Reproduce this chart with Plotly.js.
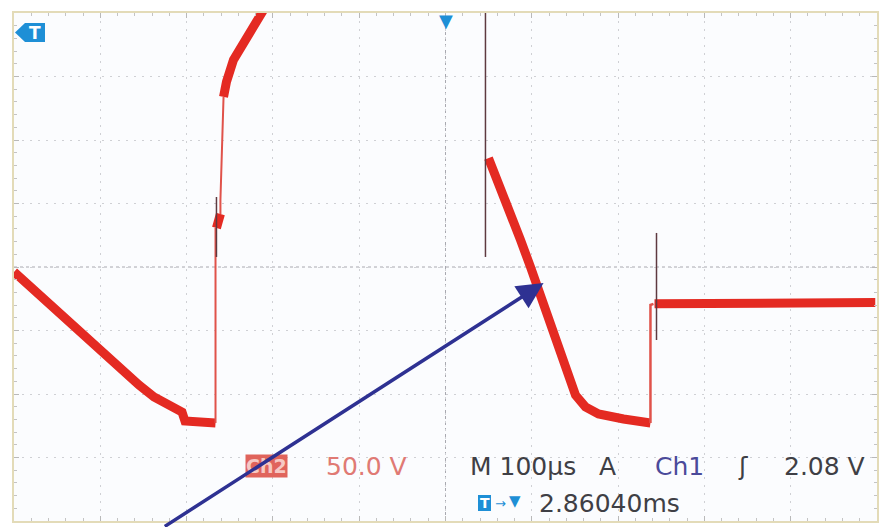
<!DOCTYPE html>
<html>
<head>
<meta charset="utf-8">
<script src="https://cdn.plot.ly/plotly-3.0.1.min.js"></script>
<style>html,body{margin:0;padding:0;background:#fff;}#chart{width:880px;height:527px;}</style>
</head>
<body>
<div id="chart"></div>
<script>
// ---- Data (time in µs relative to trigger, Ch2 in volts; 100 µs/div, 50 V/div) ----
const decay1T = [-500, -448.4, -401.5, -355.1, -337.7, -320.4, -305.3, -301.9, -266.5];
const decay1V = [-3.9, -36.2, -64.6, -92.9, -102.4, -109.4, -114.2, -121.3, -122.8];
const blockT = [-265.4, -260.8];
const blockV = [30.7, 41.7];
const riseT = [-257.2, -253.8, -245.7, -237.5, -228.3, -220.2, -210.9, -207.4];
const riseV = [133.9, 145.7, 163.0, 172.4, 181.1, 189.0, 200.0, 206.3];
const decay2T = [49.8, 61.4, 75.3, 86.9, 98.5, 113.6, 126.3, 139.0, 150.6, 162.2, 177.3, 206.3, 235.2, 237.5];
const decay2V = [85.8, 66.9, 42.5, 21.3, 0.0, -28.3, -55.1, -81.1, -100.8, -110.2, -115.7, -119.7, -122.8, -122.8];
const flatT = [242.2, 360, 498];
const flatV = [-29.0, -28.5, -28.0];
// thin edges of Ch2
const edge1T = [-266.5, -266.5, null, -260.8, -260.8, -257.2];
const edge1V = [-122.8, 30.7, null, 41.7, 52.8, 133.9];
const edge2T = [237.5, 237.5, 241];
const edge2V = [-122.8, -29.9, -29.0];
// dark spikes
const spikeT = [46.3, 46.3, null, 244.5, 244.5, null, -265.4, -265.4];
const spikeV = [205, 7.9, null, 26.8, -57.5, null, 55.1, 7.9];

const RED = '#e42a22';
function joinSeg(segs){ const o=[]; segs.forEach((s,i)=>{ if(i) o.push(null); o.push(...s); }); return o; }

const traces = [
  {x: joinSeg([decay1T, blockT, riseT, decay2T, flatT]), y: joinSeg([decay1V, blockV, riseV, decay2V, flatV]),
   mode:'lines', line:{color:RED, width:9}, connectgaps:false, hoverinfo:'skip'},
  {x: edge1T, y: edge1V, mode:'lines', line:{color:'#e0524a', width:2}, hoverinfo:'skip'},
  {x: edge2T, y: edge2V, mode:'lines', line:{color:'#e0524a', width:2.5}, hoverinfo:'skip'},
  {x: spikeT, y: spikeV, mode:'lines', line:{color:'#5e3a40', width:1.5}, hoverinfo:'skip'}
];

const W=880, H=527, ML=14, MR=3, MT=13, MB=6;
const PW=W-ML-MR, PH=H-MT-MB;
const px = x => (x-ML)/PW;
const py = y => (H-MB-y)/PH;
const FONT='DejaVu Sans';
const FS=25;
const BLUE='#1e8fd6';

function txt(text, x, y, color, size, extra){
  return Object.assign({text:text, x:px(x), y:py(y), xref:'paper', yref:'paper', xanchor:'left', yanchor:'middle',
    showarrow:false, font:{family:FONT, size:size, color:color}}, extra||{});
}
function pathPx(pts){ return 'M' + pts.map(p => px(p[0]) + ',' + py(p[1])).join(' L') + ' Z'; }

const annotations = [
  {text:'<b>Ch2</b>', x:px(245), y:py(466), xref:'paper', yref:'paper', xanchor:'left', yanchor:'middle', showarrow:false,
   font:{family:FONT, size:19, color:'#f6c9c4'}, bgcolor:'#e0645c', borderpad:0},
  txt('50.0 V', 324, 466, '#e07a74', FS),
  txt('M 100µs', 468, 466, '#3f3f45', FS),
  txt('A', 597, 466, '#3f3f45', FS),
  txt('Ch1', 653, 466, '#4a4a9a', FS),
  txt('ʃ', 736, 466, '#3f3f45', FS),
  txt('2.08 V', 782, 466, '#3f3f45', FS),
  {text:'<b>T</b>', x:px(484.5), y:py(503), xref:'paper', yref:'paper', xanchor:'center', yanchor:'middle', showarrow:false,
   font:{family:FONT, size:14, color:'#ffffff'}},
  txt('→', 493, 503, BLUE, 13),
  txt('▼', 507, 501, BLUE, 15),
  txt('2.86040ms', 537, 503, '#3f3f45', FS),
  // trigger level marker (top-left)
  {text:'<b>T</b>', x:px(35), y:py(32.5), xref:'paper', yref:'paper', xanchor:'center', yanchor:'middle', showarrow:false,
   font:{family:FONT, size:17, color:'#ffffff'}},
  {text:'▼', x:0, y:py(8), xref:'x', yref:'paper', xanchor:'center', yanchor:'top', showarrow:false,
   font:{family:FONT, size:18, color:BLUE}},
  // blue arrow
  {text:'', x:113.6, y:-12.6, xref:'x', yref:'y', ax:-327, ay:-205, axref:'x', ayref:'y',
   showarrow:true, arrowhead:2, arrowsize:1.5, arrowwidth:3.5, arrowcolor:'#2e3192', standoff:0, startstandoff:0}
];

const frameTick = {ticks:'inside', ticklen:5, tickcolor:'#b9b9b9', tickwidth:1};
const common = {showticklabels:false, zeroline:false, showgrid:true, gridcolor:'#cfd0d4', griddash:'2px,6px', gridwidth:1,
  showline:true, linecolor:'#e3dbb8', linewidth:2, mirror:'ticks', fixedrange:true};

const layout = {
  width:W, height:H, margin:{l:ML, r:MR, t:MT, b:MB, pad:0},
  paper_bgcolor:'#ffffff', plot_bgcolor:'#fbfcfe', showlegend:false,
  xaxis: Object.assign({}, common, frameTick, {range:[-500,500], dtick:100, tick0:0,
    minor:{dtick:20, ticks:'inside', ticklen:3, tickcolor:'#c4c4c4', showgrid:false}}),
  yaxis: Object.assign({}, common, frameTick, {range:[-200,200], dtick:50, tick0:0,
    minor:{dtick:10, ticks:'inside', ticklen:3, tickcolor:'#c4c4c4', showgrid:false}}),
  // centre crosshair tick axes
  xaxis2: {overlaying:'x', anchor:'free', position:0.5, range:[-500,500], dtick:100, tick0:0, ticks:'inside', ticklen:4, tickcolor:'#a9a9ad',
    minor:{dtick:20, ticks:'inside', ticklen:3, tickcolor:'#a9a9ad'}, showticklabels:false, showgrid:false, zeroline:false, showline:false, fixedrange:true},
  xaxis3: {overlaying:'x', anchor:'free', position:0.5, range:[-500,500], dtick:100, tick0:0, ticks:'outside', ticklen:4, tickcolor:'#a9a9ad',
    minor:{dtick:20, ticks:'outside', ticklen:3, tickcolor:'#a9a9ad'}, showticklabels:false, showgrid:false, zeroline:false, showline:false, fixedrange:true},
  yaxis2: {overlaying:'y', anchor:'free', position:0.5, range:[-200,200], dtick:50, tick0:0, ticks:'inside', ticklen:4, tickcolor:'#a9a9ad',
    minor:{dtick:10, ticks:'inside', ticklen:3, tickcolor:'#a9a9ad'}, showticklabels:false, showgrid:false, zeroline:false, showline:false, fixedrange:true},
  yaxis3: {overlaying:'y', anchor:'free', position:0.5, range:[-200,200], dtick:50, tick0:0, ticks:'outside', ticklen:4, tickcolor:'#a9a9ad',
    minor:{dtick:10, ticks:'outside', ticklen:3, tickcolor:'#a9a9ad'}, showticklabels:false, showgrid:false, zeroline:false, showline:false, fixedrange:true},
  shapes: [
    {type:'line', xref:'paper', yref:'y', x0:0, x1:1, y0:0, y1:0, line:{color:'#a9a9b0', width:1, dash:'dot'}, layer:'below'},
    {type:'line', xref:'x', yref:'paper', x0:0, x1:0, y0:0, y1:1, line:{color:'#a9a9b0', width:1, dash:'dot'}, layer:'below'},
    // top-left trigger-level tag
    {type:'path', xref:'paper', yref:'paper', path:pathPx([[15,32.5],[25,23],[45,23],[45,42],[25,42]]),
     fillcolor:BLUE, line:{width:0}, layer:'above'},
    // small T box in the lower readout
    {type:'rect', xref:'paper', yref:'paper', x0:px(478), x1:px(491), y0:py(511), y1:py(495),
     fillcolor:BLUE, line:{width:0}, layer:'above'}
  ],
  annotations: annotations
};

Plotly.newPlot('chart', traces, layout, {staticPlot:true, displayModeBar:false});
</script>
</body>
</html>
